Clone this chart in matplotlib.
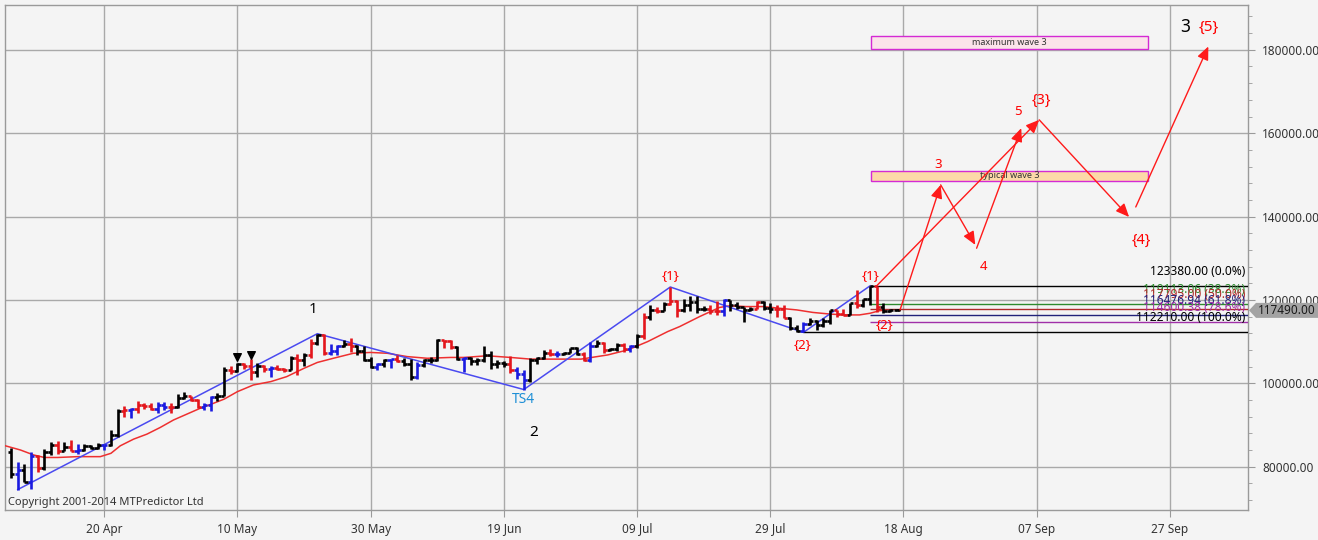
import numpy as np
import pandas as pd
import matplotlib
matplotlib.use('Agg')
import matplotlib.pyplot as plt
import matplotlib.dates as mdates
from matplotlib.patches import Rectangle, Polygon
from matplotlib.transforms import blended_transform_factory, IdentityTransform
from matplotlib.ticker import FuncFormatter, MultipleLocator

plt.rcParams['font.family'] = ['Noto Sans', 'DejaVu Sans']

# ---------------- data (prices in thousands) ----------------
start_date = '2025-04-06'
opens = [83.5, 78.2, 79.2, 76.3, 82.6, 79.6, 83.4, 85.3, 83.7, 84.6, 83.7, 84.0, 84.9, 84.5, 85.1, 85.2, 87.5, 93.4, 93.7, 93.9, 94.7, 94.6, 93.8, 94.9, 94.3,
         94.2, 96.5, 96.9, 95.9, 94.3, 94.7, 96.8, 97.0, 103.2, 102.9, 104.6, 104.1, 102.8, 104.2, 103.5, 103.7, 103.5, 103.2, 106.0, 105.6, 106.8, 109.7, 111.7, 107.3, 107.8, 109.0, 109.4, 109.0, 107.8, 105.6, 103.9,
         104.6, 105.7, 105.8, 105.4, 104.7, 101.6, 104.4, 105.6, 105.7, 110.3, 110.2, 108.7, 105.9, 106.0, 105.4, 105.6, 106.8, 104.6, 104.9, 104.6, 103.3, 102.2, 100.9, 105.6, 106.0, 107.3, 107.0, 107.1, 107.3, 108.4,
         107.1, 105.7, 108.9, 109.6, 108.0, 108.2, 109.2, 108.3, 108.9, 111.3, 115.9, 117.5, 117.4, 119.1, 119.8, 117.7, 118.7, 119.4, 117.9, 117.9, 117.3, 117.4, 119.9, 118.7, 118.3, 117.6, 117.9, 119.4, 118.0, 117.9, 117.8,
         115.7, 113.3, 112.5, 114.2, 115.0, 114.1, 115.0, 117.5, 116.7, 116.5, 119.3, 118.7, 120.1, 123.3, 118.4, 117.4, 117.5]
highs = [84.4, 81.2, 80.6, 83.6, 82.9, 84.3, 86.0, 86.2, 85.8, 86.4, 85.4, 85.5, 85.1, 85.6, 85.3, 88.8, 93.9, 94.6, 94.0, 95.8, 95.3, 95.2, 95.6, 95.5, 95.2,
         97.4, 97.9, 97.0, 96.3, 95.2, 96.9, 97.7, 103.8, 104.2, 104.9, 104.9, 105.8, 104.9, 104.4, 104.1, 104.5, 103.7, 106.6, 107.1, 107.3, 110.7, 111.9, 111.8, 109.5, 109.3, 110.4, 110.8, 109.3, 108.9, 106.3, 104.9,
         105.9, 105.9, 106.8, 106.0, 105.9, 105.0, 105.9, 106.4, 110.6, 110.4, 110.3, 108.9, 106.2, 106.2, 106.1, 108.9, 107.8, 105.6, 105.3, 106.5, 104.0, 103.1, 106.0, 106.3, 108.0, 108.2, 107.7, 107.6, 108.5, 108.8,
         107.5, 109.8, 110.5, 109.8, 108.4, 109.7, 109.7, 109.2, 111.9, 116.8, 118.8, 118.2, 119.4, 123.1, 119.9, 120.1, 120.9, 120.9, 118.6, 118.9, 119.7, 120.2, 120.0, 119.5, 118.4, 118.2, 119.8, 119.7, 119.2, 118.8, 118.9,
         116.0, 114.0, 114.7, 115.7, 115.1, 115.7, 117.6, 117.7, 117.9, 119.3, 122.3, 120.3, 123.38, 123.3, 119.2, 117.9, 117.6]
lows = [77.2, 74.5, 76.2, 74.7, 78.6, 79.2, 82.9, 83.1, 83.7, 83.7, 83.1, 83.8, 84.3, 84.3, 83.9, 85.0, 87.1, 91.8, 91.7, 92.9, 93.9, 93.5, 92.9, 93.7, 92.9,
        94.1, 96.3, 95.7, 94.1, 93.5, 93.4, 95.8, 96.9, 102.3, 102.8, 103.4, 100.8, 101.5, 102.6, 101.4, 103.1, 102.7, 103.1, 102.1, 104.2, 106.1, 109.3, 106.8, 106.9, 106.7, 108.7, 107.6, 106.8, 105.4, 103.7, 103.1,
        103.9, 103.7, 105.0, 104.2, 100.8, 101.1, 103.9, 104.9, 105.3, 108.4, 108.3, 105.7, 102.7, 104.4, 104.5, 105.0, 103.4, 103.6, 103.9, 102.4, 101.0, 98.5, 100.3, 104.6, 105.8, 106.6, 106.4, 106.9, 107.2, 106.8,
        105.3, 105.2, 108.6, 107.3, 107.8, 107.8, 107.5, 107.5, 108.4, 110.6, 115.3, 116.9, 117.3, 118.9, 115.8, 117.0, 117.4, 116.9, 117.3, 116.6, 116.5, 116.2, 117.4, 117.9, 114.8, 117.3, 117.9, 117.5, 116.9, 115.9, 115.6,
        112.8, 112.3, 112.21, 114.0, 112.7, 113.4, 114.3, 115.9, 116.3, 116.5, 118.1, 118.2, 118.9, 117.2, 116.9, 117.2, 117.4]
closes = [78.2, 79.2, 76.3, 82.6, 79.6, 83.4, 85.3, 83.7, 84.6, 83.7, 84.0, 84.9, 84.5, 85.1, 85.2, 87.5, 93.4, 93.7, 93.9, 94.7, 94.6, 93.8, 94.9, 94.3, 94.2,
          96.5, 96.9, 95.9, 94.3, 94.7, 96.8, 97.0, 103.2, 102.9, 104.6, 104.1, 102.8, 104.2, 103.5, 103.7, 103.5, 103.2, 106.0, 105.6, 106.8, 109.7, 111.7, 107.3, 107.8, 109.0, 109.4, 109.0, 107.8, 105.6, 103.9, 104.6,
          105.7, 105.8, 105.4, 104.7, 101.6, 104.4, 105.6, 105.7, 110.3, 110.2, 108.7, 105.9, 106.0, 105.4, 105.6, 106.8, 104.6, 104.9, 104.6, 103.3, 102.2, 100.9, 105.6, 106.0, 107.3, 107.0, 107.1, 107.3, 108.4, 107.1,
          105.7, 108.9, 109.6, 108.0, 108.2, 109.2, 108.3, 108.9, 111.3, 115.9, 117.5, 117.4, 119.1, 119.8, 117.7, 118.7, 119.4, 117.9, 117.9, 117.3, 117.4, 119.9, 118.7, 118.3, 117.6, 117.9, 119.4, 118.0, 117.9, 117.8, 115.7,
          113.3, 112.5, 114.2, 115.0, 114.1, 115.0, 117.5, 116.7, 116.5, 119.3, 118.7, 120.1, 123.3, 118.4, 117.4, 117.5, 117.49]
bar_colours = ("kbkbrkkrkrbkkkbkkrbrrrbbr"
               "kkrrbbkkrkrrkrbrrkrkrkrbbkrkkkb"
               "kbrkkbkkkrrkbkkkkkkrbbkkkrbkkk"
               "rbkrkkrbkrkrkrrkkkkrrbkkkkrkkrr"
               "kkbkkkkrrkrkkrkkk")

# moving average: day offsets from start_date, values (thousands)
ma_days = [-0.85, 1.4, 3.4, 5, 7, 10, 13.4, 15, 16.4, 18.4, 20.4, 22.4, 24.4, 26.4, 28.4, 30.4, 32, 34, 36.4, 39, 41.4, 44, 46,
           48.4, 51.4, 54, 56.5, 59.5, 62.5, 66, 68, 71.5, 75, 78, 81.6, 85.6, 89.6, 92.6, 95.6, 98.6, 100.4, 103.4, 106.4, 108,
           110.4, 113, 115.4, 118, 120.4, 123, 125.4, 127.4, 129, 130.4, 131.4]
ma_vals = [85.0, 84.0, 82.8, 82.2, 82.2, 82.4, 82.4, 83.2, 85.0, 86.6, 87.8, 89.4, 91.2, 92.6, 94.0, 95.2, 96.2, 98.0, 99.6, 100.4, 101.6, 103.6, 105.0,
           106.0, 107.2, 107.4, 107.2, 106.4, 106.0, 106.2, 106.2, 106.6, 106.2, 105.8, 105.8, 105.8, 106.8, 108.0, 110.0, 112.4, 113.6, 116.0, 118.2, 118.6,
           118.4, 118.4, 118.0, 117.6, 117.0, 116.6, 116.4, 116.4, 116.8, 117.4, 117.6]

# swing (zigzag) line
swing_days = [1, 46, 77, 99, 119, 129]
swing_vals = [74.5, 111.9, 98.5, 123.1, 112.21, 123.38]

# fibonacci retracement
fib_hi, fib_lo = 123380.0, 112210.0
fib_pcts = [0.0, 38.2, 50.0, 61.8, 78.6, 100.0]
fib_cols = ['#000000', '#2e8b2e', '#b02a2a', '#22227a', '#a030a8', '#000000']
fib_start_day = [129, 129, 129, 129, 129, 119]

# projection arrows: (day0, val0, day1, val1)
proj_arrows = [(133.5, 117.6, 139.6, 147.6), (139.6, 147.6, 144.8, 133.2), (145.0, 132.4, 151.7, 161.2),
               (130.0, 123.4, 154.4, 163.2), (154.4, 163.2, 167.9, 139.9), (168.9, 142.3, 179.8, 180.8)]

# target boxes: (label, day0, day1, low, high, fill)
boxes = [('maximum wave 3', 129.1, 170.8, 180.2, 183.4, '#fbe3ea'),
         ('typical wave 3', 129.1, 170.8, 148.5, 151.0, '#fcd9a8')]

# wave labels: (text, day, value, colour, size)
labels = [('1', 45.3, 117.6, 'black', 11), ('2', 78.4, 88.1, 'black', 11), ('TS4', 76.9, 96.2, '#1e8fd6', 10),
          ('{1}', 99.0, 125.8, 'red', 9.5), ('{2}', 118.9, 109.4, 'red', 9.5), ('{1}', 129.0, 125.8, 'red', 9.5),
          ('{2}', 131.1, 114.2, 'red', 9.5), ('3', 139.2, 152.6, 'red', 9.5), ('4', 146.1, 127.9, 'red', 9.5),
          ('5', 151.2, 165.1, 'red', 9.5), ('{3}', 154.8, 167.8, 'red', 10.5), ('{4}', 169.8, 134.4, 'red', 10.5),
          ('3', 176.3, 185.5, 'black', 12.5), ('{5}', 179.9, 185.5, 'red', 11)]

signal_days = [34, 36]
signal_vals = [106.2, 106.8]

last_price = 117490.0
xtick_dates = ['2025-04-20', '2025-05-10', '2025-05-30', '2025-06-19', '2025-07-09', '2025-07-29',
               '2025-08-18', '2025-09-07', '2025-09-27']

# ---------------- figure ----------------
W, H = 1318, 540
bg = '#f4f4f4'
fig = plt.figure(figsize=(W / 100, H / 100), dpi=100, facecolor=bg)
ax = fig.add_axes([5.3 / W, 30 / H, (1248.3 - 5.3) / W, (510 - 5.3) / H])
ax.set_facecolor(bg)

base = mdates.date2num(pd.Timestamp(start_date))
n = len(closes)
xs = base + np.arange(n)
o = np.array(opens) * 1000
h = np.array(highs) * 1000
l = np.array(lows) * 1000
c = np.array(closes) * 1000
cmap = {'k': '#000000', 'r': '#e3161c', 'b': '#1a1ae0'}
cols = [cmap[ch] for ch in bar_colours]

ax.set_xlim(base - 0.866, base + 185.8)
ax.set_ylim(69600, 190680)

# grid / axes
ax.set_xticks(mdates.date2num(pd.to_datetime(xtick_dates)))
ax.xaxis.set_major_formatter(mdates.DateFormatter('%d %b'))
ax.yaxis.set_major_locator(MultipleLocator(20000))
ax.yaxis.set_minor_locator(MultipleLocator(4000))
ax.yaxis.set_major_formatter(FuncFormatter(lambda v, p: f'{v:.2f}'))
ax.yaxis.tick_right()
ax.grid(True, which='major', color='#a9a9a9', lw=1.0)
ax.set_axisbelow(True)
for s in ax.spines.values():
    s.set_color('#9a9a9a')
    s.set_linewidth(1.0)
ax.tick_params(axis='y', which='major', length=5, color='#9a9a9a', labelsize=8.5, labelcolor='#333333', pad=5)
ax.tick_params(axis='y', which='minor', length=3, color='#9a9a9a')
ax.tick_params(axis='x', which='major', length=5, color='#9a9a9a', labelsize=8.5, labelcolor='#333333', pad=4)

# moving average
ax.plot(base + np.array(ma_days), np.array(ma_vals) * 1000, color='#ee3030', lw=1.1, zorder=3)
# swing line
ax.plot(base + np.array(swing_days), np.array(swing_vals) * 1000, color='#4a4af0', lw=1.1, zorder=3)

# OHLC bars
tk = 0.48
ax.vlines(xs, l, h, colors=cols, lw=1.9, zorder=4)
ax.hlines(o, xs - tk, xs, colors=cols, lw=1.9, zorder=4)
ax.hlines(c, xs, xs + tk, colors=cols, lw=1.9, zorder=4)
ax.hlines(c[-1], xs[-1], xs[-1] + 0.6, colors='black', lw=1.2, zorder=4)

# signal triangles
ax.scatter(base + np.array(signal_days), np.array(signal_vals) * 1000, marker='v', s=30, color='black', zorder=5)

# fib lines
right_edge = base + 185.8
for p, col, sd in zip(fib_pcts, fib_cols, fib_start_day):
    val = fib_hi - (fib_hi - fib_lo) * p / 100.0
    ax.hlines(val, base + sd, right_edge, colors=col, lw=1.0, zorder=3)
    ax.annotate(f'{val:.2f} ({p:.1f}%)', xy=(right_edge, val), xytext=(-2, 10.5), textcoords='offset points',
                ha='right', va='center', fontsize=8.6, color=col, zorder=6)

# boxes
for txt, d0, d1, lo, hi, fc in boxes:
    ax.add_patch(Rectangle((base + d0, lo * 1000), d1 - d0, (hi - lo) * 1000, facecolor=fc,
                           edgecolor='#d42ad4', lw=1.0, zorder=3))
    ax.text(base + (d0 + d1) / 2, (lo + hi) / 2 * 1000, txt, ha='center', va='center', fontsize=6.5,
            color='#333333', zorder=4)

# projection arrows
for d0, v0, d1, v1 in proj_arrows:
    ax.annotate('', xy=(base + d1, v1 * 1000), xytext=(base + d0, v0 * 1000),
                arrowprops=dict(arrowstyle='-|>,head_length=0.8,head_width=0.35', color='#ff1a1a', lw=1.0,
                                shrinkA=0, shrinkB=0), zorder=5)

# wave labels
for txt, d, v, col, fs in labels:
    ax.text(base + d, v * 1000, txt, ha='center', va='center', fontsize=fs, color=col, zorder=6)

# copyright
ax.text(0.002, 71500, 'Copyright 2001-2014 MTPredictor Ltd', transform=blended_transform_factory(ax.transAxes, ax.transData),
        ha='left', va='center', fontsize=8, color='#333333', zorder=6)

# last price tag (drawn in pixel space at the price level)
yp = ax.transData.transform((base, last_price))[1]
x_tip = 1249.0
tag = Polygon([(x_tip, yp), (x_tip + 7, yp + 7.5), (W, yp + 7.5), (W, yp - 7.5), (x_tip + 7, yp - 7.5)],
              closed=True, transform=IdentityTransform(), facecolor='#a3a3a3', edgecolor='none', zorder=9)
tag.set_clip_on(False)
fig.add_artist(tag)
fig.text(1257.5 / W, yp / H, f'{last_price:.2f}', ha='left', va='center', fontsize=8.5, fontweight='bold',
         color='#1a1a1a', zorder=10)

fig.savefig('out.png', dpi=100, facecolor=bg)
